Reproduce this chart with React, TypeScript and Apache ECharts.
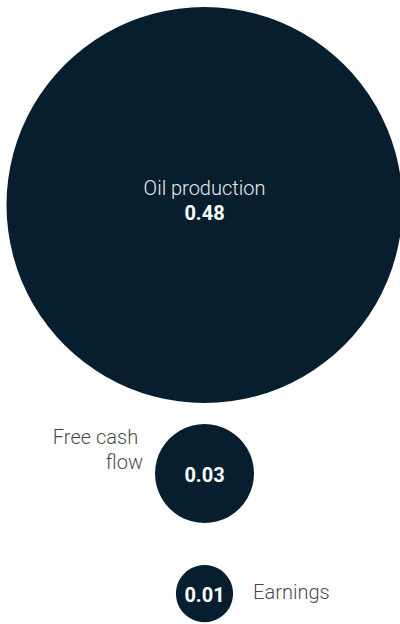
import React, { useEffect, useRef } from "react";
import * as echarts from "echarts";

// Data
const categories = ["Oil production", "Free cash flow", "Earnings"];
const values = [0.48, 0.03, 0.01];
const valueLabels = ["0.48", "0.03", "0.01"];
// where each name label sits relative to its bubble
const namePlacement = ["inside", "left", "right"];

// Layout (pixels)
const W = 400;
const H = 624;
const CENTER_X = 204.5;
const TOP = 7;
const GAPS = [21, 42];
const RADIUS_SCALE = 285.8; // radius = scale * sqrt(value)
const COLOR = "#071e2f";
const FONT = "Roboto, 'Liberation Sans', Arial, sans-serif";

export default function App() {
  const ref = useRef<HTMLDivElement>(null);
  useEffect(() => {
    if (!ref.current) return;
    const chart = echarts.init(ref.current, undefined, { renderer: "svg" });
    const radii = values.map((v) => RADIUS_SCALE * Math.sqrt(v));
    const centersY: number[] = [];
    let cursor = TOP;
    radii.forEach((r, i) => {
      if (i > 0) cursor += GAPS[i - 1];
      centersY.push(cursor + r);
      cursor += 2 * r;
    });
    const bubbleData = values.map((v, i) => ({
      name: categories[i],
      value: [CENTER_X, centersY[i], v],
      symbolSize: radii[i] * 2,
      label:
        namePlacement[i] === "inside"
          ? {
              show: true,
              position: "inside",
              offset: [0, -5],
              formatter: () => `{n|${categories[i]}}\n{v|${valueLabels[i]}}`,
              rich: {
                n: { fontFamily: FONT, fontSize: 20, fontWeight: 300, color: "#e8ecef", lineHeight: 25 },
                v: { fontFamily: FONT, fontSize: 20, fontWeight: 700, color: "#ffffff", lineHeight: 25 },
              },
            }
          : {
              show: true,
              position: "inside",
              offset: [0, 1],
              formatter: () => valueLabels[i],
              fontFamily: FONT,
              fontSize: 20,
              fontWeight: 700,
              color: "#ffffff",
            },
    }));
    const nameData = values.map((v, i) => ({
      name: categories[i],
      value: [CENTER_X, centersY[i], v],
      symbolSize: radii[i] * 2,
      label:
        namePlacement[i] === "inside"
          ? { show: false }
          : namePlacement[i] === "left"
          ? {
              show: true,
              position: "left",
              distance: 12,
              offset: [0, -24],
              align: "right",
              width: 92,
              overflow: "break",
              lineHeight: 25,
              formatter: () => categories[i],
            }
          : {
              show: true,
              position: "right",
              distance: 20,
              offset: [0, -2],
              formatter: () => categories[i],
            },
    }));
    chart.setOption({
      animation: false,
      grid: { left: 0, right: 0, top: 0, bottom: 0 },
      xAxis: { type: "value", min: 0, max: W, show: false },
      yAxis: { type: "value", min: 0, max: H, inverse: true, show: false },
      series: [
        {
          type: "scatter",
          symbol: "circle",
          itemStyle: { color: COLOR, opacity: 1 },
          data: bubbleData,
          silent: true,
          z: 2,
        },
        {
          type: "scatter",
          symbol: "circle",
          itemStyle: { color: "rgba(0,0,0,0)" },
          label: {
            fontFamily: FONT,
            fontSize: 20,
            fontWeight: 300,
            color: "#111111",
          },
          data: nameData,
          silent: true,
          z: 3,
        },
      ],
    });
    return () => chart.dispose();
  }, []);
  return (
    <div
      ref={ref}
      style={{ position: "fixed", left: 0, top: 0, width: W, height: H, background: "#ffffff" }}
    />
  );
}
